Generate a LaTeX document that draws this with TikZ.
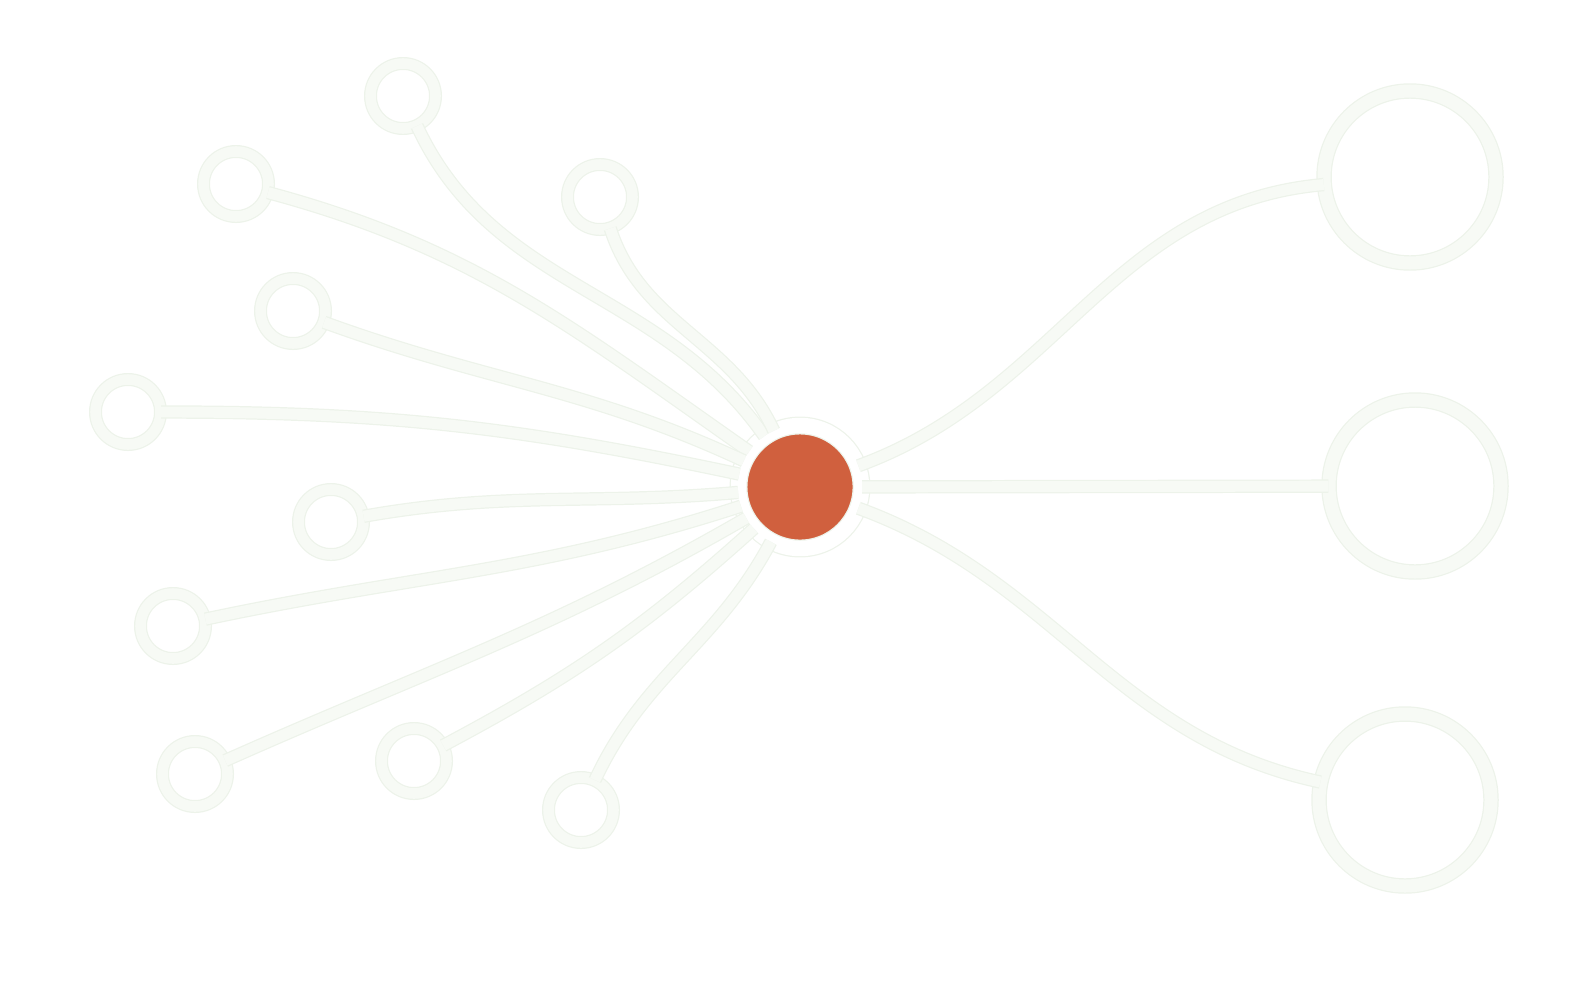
\documentclass[tikz,border=0pt]{standalone}
\usepackage{tikz}
\usetikzlibrary{arrows,shapes,positioning}
\usepackage{xcolor}
\definecolor{huborange}{RGB}{208,96,62}
\definecolor{ringedge}{RGB}{237,243,234}
\definecolor{ringfill}{RGB}{247,250,245}
\tikzstyle{ring} = [circle, inner sep=0pt, draw=ringedge, line width=0.35pt, double=ringfill, double distance=3pt]
\tikzstyle{leaf} = [ring, minimum size=0.65cm]
\tikzstyle{bigleaf} = [ring, minimum size=1.72cm, double distance=3.7pt]
\tikzstyle{link} = [draw=ringedge, line width=0.35pt, double=ringfill, double distance=3.1pt]

\begin{document}
\begin{tikzpicture}
% Hub
\node[circle, inner sep=0pt, minimum size=1.23cm, fill=huborange, draw=ringedge, line width=0.35pt, double=white, double distance=4.4pt] (hub) at (8.00,5.05) {};

% Small leaves
\node[leaf] (s1) at (4.03,8.96) {};
\node[leaf] (s2) at (2.36,8.08) {};
\node[leaf] (s3) at (6.00,7.95) {};
\node[leaf] (s4) at (2.93,6.81) {};
\node[leaf] (s5) at (1.28,5.80) {};
\node[leaf] (s6) at (3.31,4.70) {};
\node[leaf] (s7) at (1.73,3.66) {};
\node[leaf] (s8) at (1.95,2.18) {};
\node[leaf] (s9) at (4.14,2.31) {};
\node[leaf] (s10) at (5.81,1.82) {};

% Large leaves
\node[bigleaf] (bigA) at (14.10,8.15) {};
\node[bigleaf] (bigB) at (14.15,5.06) {};
\node[bigleaf] (bigC) at (14.05,1.92) {};

% Links on the left
\draw[link] (s1) to[out=-65, in=125] (hub);
\draw[link] (s2) to[out=-15, in=145] (hub);
\draw[link] (s3) to[out=-72, in=115] (hub);
\draw[link] (s4) to[out=-20, in=155] (hub);
\draw[link] (s5) to[out=0, in=168] (hub);
\draw[link] (s6) to[out=10, in=185] (hub);
\draw[link] (s7) to[out=12, in=198] (hub);
\draw[link] (s8) to[out=24, in=210] (hub);
\draw[link] (s9) to[out=28, in=222] (hub);
\draw[link] (s10) to[out=65, in=242] (hub);

% Links on the right
\draw[link] (hub) to[out=20, in=185] (bigA);
\draw[link] (hub) -- (bigB);
\draw[link] (hub) to[out=-20, in=168] (bigC);

\pgfresetboundingbox
\useasboundingbox (0,0) rectangle (15.86,9.92);
\end{tikzpicture}
\end{document}
